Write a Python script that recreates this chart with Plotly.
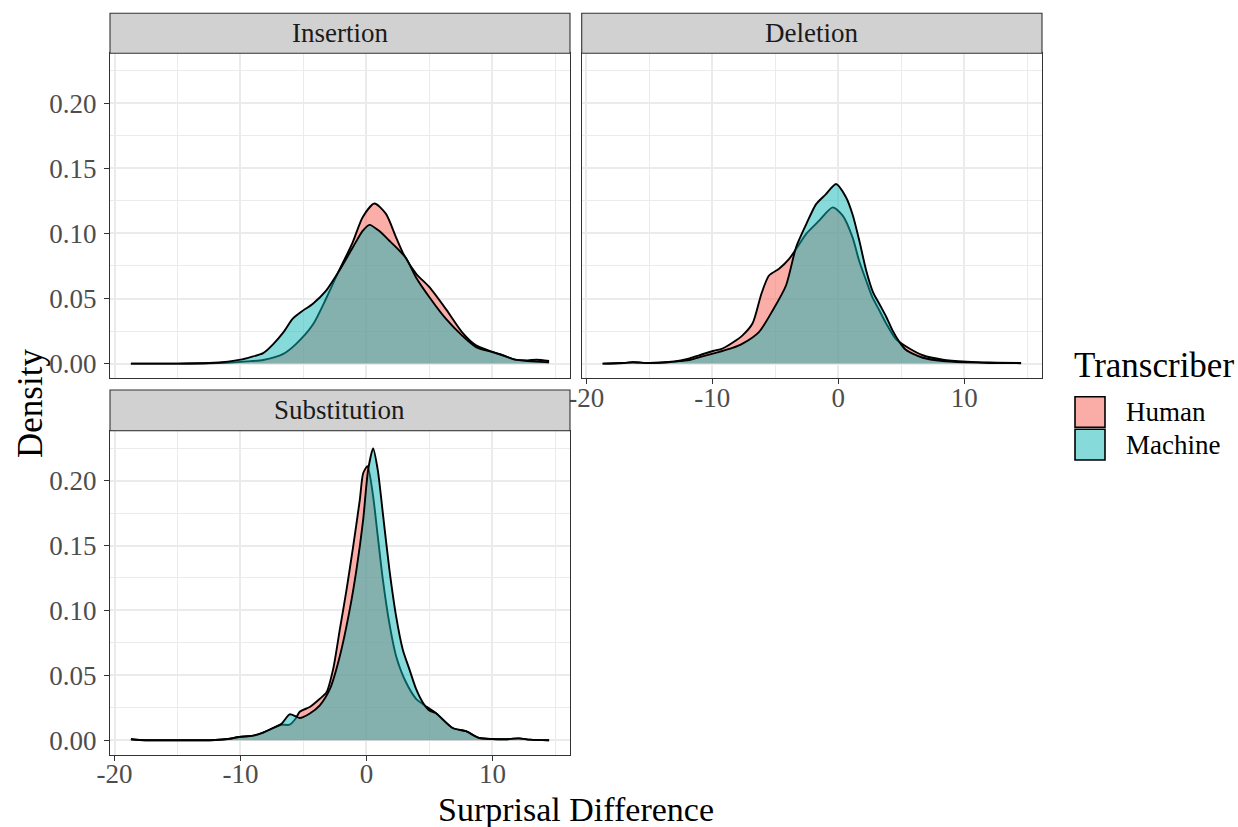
import plotly.graph_objects as go

# ---- density estimates of surprisal difference, by error type and transcriber ----
ins_human_x = [-18.7, -15, -12.5, -11, -9.5, -8.2, -6.6, -5.6, -4.25, -3.2, -2.27, -1.1, -0.3,
               0.63, 1.55, 2.35, 3.0, 3.95, 5.0, 6.3, 7.6, 8.7, 10.0, 10.8, 11.8, 12.8, 13.5, 14.5]
ins_human_y = [0.0, 0.0, 0.0003, 0.0008, 0.0017, 0.0028, 0.0075, 0.015, 0.030, 0.050, 0.0695, 0.093, 0.1125,
               0.123, 0.115, 0.097, 0.083, 0.069, 0.0587, 0.042, 0.024, 0.014, 0.009, 0.0065, 0.003, 0.0025, 0.003, 0.002]

ins_machine_x = [-18.7, -15, -12.5, -11, -10, -9.2, -8.2, -7.4, -6.6, -5.85, -5.15, -4.25, -3.2, -2.15,
                 -1.1, -0.3, 0.24, 1.0, 1.8, 2.6, 3.15, 3.95, 5.0, 6.3, 7.6, 8.7, 10.0, 10.8, 11.8, 12.8, 13.5, 14.5]
ins_machine_y = [0.0, 0.0, 0.0004, 0.0015, 0.003, 0.005, 0.008, 0.015, 0.024, 0.0345, 0.040, 0.046, 0.056, 0.0715,
                 0.089, 0.102, 0.1066, 0.102, 0.0946, 0.087, 0.081, 0.066, 0.051, 0.0345, 0.0215, 0.0127, 0.0089, 0.0064, 0.003, 0.002, 0.0015, 0.001]

del_human_x = [-18.7, -17, -16.3, -15, -13.5, -12.5, -11.8, -11, -9.95, -9.2, -8.4, -7.6, -6.8, -6.1, -5.5,
               -4.7, -3.9, -3.35, -2.55, -1.5, -0.45, 0.35, 1.13, 1.65, 2.2, 2.7, 3.25, 3.8, 4.55, 5.35,
               6.7, 8.3, 10.2, 12.0, 14.5]
del_human_y = [0.0, 0.0005, 0.001, 0.0005, 0.0012, 0.0025, 0.004, 0.0065, 0.0097, 0.0115, 0.016, 0.0217, 0.031, 0.0537, 0.0677,
               0.0729, 0.0805, 0.088, 0.0997, 0.110, 0.120, 0.1137, 0.097, 0.079, 0.064, 0.051, 0.041, 0.0307, 0.019, 0.0133,
               0.0064, 0.003, 0.0015, 0.0008, 0.0005]

del_machine_x = [-18.7, -17, -16.3, -15, -13.5, -12.5, -11.8, -11, -9.95, -9.2, -8.4, -7.6, -6.3, -5.2, -4.15,
                 -3.35, -2.55, -1.75, -1.0, -0.18, 0.6, 1.15, 1.7, 2.2, 2.75, 3.25, 3.8, 4.3, 4.85, 5.35,
                 6.7, 8.3, 10.2, 12.0, 14.5]
del_machine_y = [0.0, 0.0005, 0.001, 0.0005, 0.001, 0.002, 0.0028, 0.005, 0.0077, 0.0097, 0.012, 0.0153, 0.0242, 0.041, 0.060,
                 0.0894, 0.107, 0.1227, 0.130, 0.138, 0.128, 0.114, 0.093, 0.072, 0.055, 0.046, 0.036, 0.0255, 0.0166, 0.0107,
                 0.0045, 0.002, 0.001, 0.0005, 0.0003]

sub_human_x = [-18.7, -18, -15, -12, -11, -10.1, -9.0, -8.2, -7.4, -6.74, -6.1, -5.6, -5.3, -4.5, -3.7, -3.17,
               -2.64, -2.11, -1.58, -1.06, -0.53, -0.26, 0.08, 0.5, 0.9, 1.3, 1.82, 2.35, 3.14, 3.94, 4.46,
               5.5, 6.84, 7.9, 8.95, 10.0, 11.0, 12.1, 13.0, 14.5]
sub_human_y = [0.0008, 0.0003, 0.0, 0.0003, 0.001, 0.0026, 0.0036, 0.006, 0.0095, 0.012, 0.012, 0.017, 0.022, 0.0257, 0.032, 0.037,
               0.055, 0.0856, 0.116, 0.149, 0.185, 0.2056, 0.211, 0.190, 0.157, 0.124, 0.090, 0.065, 0.0447, 0.032, 0.028,
               0.021, 0.0095, 0.007, 0.0018, 0.001, 0.0008, 0.0015, 0.0005, 0.0]

sub_machine_x = [-18.7, -18, -15, -12, -11, -10.1, -9.0, -8.2, -7.4, -6.74, -6.1, -5.6, -5.3, -4.5, -3.7, -2.9,
                 -2.11, -1.32, -0.79, -0.26, 0.13, 0.53, 0.9, 1.3, 1.82, 2.35, 2.88, 3.4, 3.94, 4.46, 4.99,
                 5.5, 6.84, 7.9, 8.95, 10.0, 11.0, 12.1, 13.0, 14.5]
sub_machine_y = [0.0008, 0.0003, 0.0, 0.0003, 0.001, 0.0026, 0.0036, 0.006, 0.0095, 0.0128, 0.020, 0.0184, 0.0172, 0.0207, 0.027, 0.0396,
                 0.065, 0.101, 0.1316, 0.170, 0.208, 0.2247, 0.208, 0.175, 0.1316, 0.0958, 0.070, 0.055, 0.0396, 0.0294, 0.023,
                 0.021, 0.0095, 0.007, 0.0018, 0.001, 0.0008, 0.0015, 0.0005, 0.0]

panel_titles = ["Insertion", "Deletion", "Substitution"]
series_names = ["Human", "Machine"]
x_ticks = [-20, -10, 0, 10]
x_minor = [-15, -5, 5, 15]
y_ticks = [0.0, 0.05, 0.10, 0.15, 0.20]
y_minor = [0.025, 0.075, 0.125, 0.175, 0.225]

# ---- styling ----
FONT = "Liberation Serif"
HUMAN_FILL = "rgba(248,118,109,0.6)"
MACHINE_FILL = "rgba(13,181,181,0.5)"
HUMAN_KEY = "rgb(250,172,167)"
MACHINE_KEY = "rgb(134,218,218)"
GRID = "#EBEBEB"
FRAME = "#333333"
TICKTXT = "#4D4D4D"
STRIP = "#D1D1D1"

W, H = 1238, 827


def px_x(v):
    return v / W


def px_y(v):
    return 1 - v / H


fig = go.Figure()

panels = [
    ("x", "y", ins_human_x, ins_human_y, ins_machine_x, ins_machine_y),
    ("x2", "y2", del_human_x, del_human_y, del_machine_x, del_machine_y),
    ("x3", "y3", sub_human_x, sub_human_y, sub_machine_x, sub_machine_y),
]
for xa, ya, hx, hy, mx, my in panels:
    fig.add_trace(go.Scatter(x=hx, y=hy, xaxis=xa, yaxis=ya, mode="lines", fill="tozeroy",
                             fillcolor=HUMAN_FILL, line=dict(color="black", width=1.9, shape="spline", smoothing=0.7),
                             name=series_names[0], showlegend=False, hoverinfo="skip"))
    fig.add_trace(go.Scatter(x=mx, y=my, xaxis=xa, yaxis=ya, mode="lines", fill="tozeroy",
                             fillcolor=MACHINE_FILL, line=dict(color="black", width=1.9, shape="spline", smoothing=0.7),
                             name=series_names[1], showlegend=False, hoverinfo="skip"))

# panel rectangles in pixels: (left, right) and (top, bottom)
top_y = (53.3, 378.3)
bot_y = (430.7, 755.0)
col1 = (110.0, 570.0)
col2 = (581.7, 1042.0)

x_range = [-20.36, 16.16]
y_range = [-0.0113, 0.2384]


def xaxis_cfg(domain, labels):
    return dict(domain=[px_x(domain[0]), px_x(domain[1])], range=x_range, automargin=False,
                tickmode="array", tickvals=x_ticks, ticktext=[str(t) for t in x_ticks],
                showticklabels=labels, ticks="outside" if labels else "", ticklen=5, tickwidth=1.1,
                ticklabelstandoff=-10,
                tickcolor=FRAME, tickfont=dict(family=FONT, size=27, color=TICKTXT),
                showgrid=True, gridcolor=GRID, gridwidth=1.6, zeroline=False,
                minor=dict(tickmode="array", tickvals=x_minor, showgrid=True, gridcolor=GRID, gridwidth=0.8, ticks=""),
                showline=True, mirror=True, linecolor=FRAME, linewidth=1.1, fixedrange=True)


def yaxis_cfg(domain, labels):
    return dict(domain=[px_y(domain[1]), px_y(domain[0])], range=y_range, automargin=False,
                tickmode="array", tickvals=y_ticks, ticktext=["%.2f" % t for t in y_ticks],
                showticklabels=labels, ticks="outside" if labels else "", ticklen=5, tickwidth=1.1,
                ticklabelstandoff=2,
                tickcolor=FRAME, tickfont=dict(family=FONT, size=27, color=TICKTXT),
                showgrid=True, gridcolor=GRID, gridwidth=1.6, zeroline=False,
                minor=dict(tickmode="array", tickvals=y_minor, showgrid=True, gridcolor=GRID, gridwidth=0.8, ticks=""),
                showline=True, mirror=True, linecolor=FRAME, linewidth=1.1, fixedrange=True)


fig.update_layout(
    xaxis=xaxis_cfg(col1, False), yaxis=yaxis_cfg(top_y, True),
    xaxis2=xaxis_cfg(col2, True), yaxis2=yaxis_cfg(top_y, False),
    xaxis3=xaxis_cfg(col1, True), yaxis3=yaxis_cfg(bot_y, True),
)
fig.layout.xaxis2.anchor = "y2"
fig.layout.yaxis2.anchor = "x2"
fig.layout.xaxis3.anchor = "y3"
fig.layout.yaxis3.anchor = "x3"

shapes = []
annotations = []

# facet strips
strips = [(col1, (13.3, 53.3), panel_titles[0]),
          (col2, (13.3, 53.3), panel_titles[1]),
          (col1, (390.0, 430.7), panel_titles[2])]
for (l, r), (t, b), label in strips:
    shapes.append(dict(type="rect", xref="paper", yref="paper", x0=px_x(l), x1=px_x(r),
                       y0=px_y(b), y1=px_y(t), fillcolor=STRIP, line=dict(color=FRAME, width=1.1), layer="above"))
    annotations.append(dict(xref="paper", yref="paper", x=px_x((l + r) / 2), y=px_y((t + b) / 2),
                            text=label, showarrow=False, xanchor="center", yanchor="middle",
                            font=dict(family=FONT, size=27, color="#1A1A1A")))

# axis titles
annotations.append(dict(xref="paper", yref="paper", x=px_x(30), y=px_y(404), text="Density",
                        textangle=-90, showarrow=False, xanchor="center", yanchor="middle",
                        font=dict(family=FONT, size=35, color="black")))
annotations.append(dict(xref="paper", yref="paper", x=px_x(576), y=px_y(809), text="Surprisal Difference",
                        showarrow=False, xanchor="center", yanchor="middle",
                        font=dict(family=FONT, size=34, color="black")))

# legend
annotations.append(dict(xref="paper", yref="paper", x=px_x(1072), y=px_y(365), text="Transcriber",
                        showarrow=False, xanchor="left", yanchor="middle",
                        font=dict(family=FONT, size=35, color="black")))
legend_rows = [(series_names[0], HUMAN_KEY, 396.7, 427.3), (series_names[1], MACHINE_KEY, 429.3, 460.0)]
for name, colr, t, b in legend_rows:
    shapes.append(dict(type="rect", xref="paper", yref="paper", x0=px_x(1075), x1=px_x(1105),
                       y0=px_y(b), y1=px_y(t), fillcolor=colr, line=dict(color="black", width=1.6)))
    annotations.append(dict(xref="paper", yref="paper", x=px_x(1124), y=px_y((t + b) / 2), text=name,
                            showarrow=False, xanchor="left", yanchor="middle",
                            font=dict(family=FONT, size=27, color="black")))

fig.update_layout(shapes=shapes, annotations=annotations, width=W, height=H,
                  margin=dict(l=0, r=0, t=0, b=0, autoexpand=False), paper_bgcolor="white", plot_bgcolor="white",
                  showlegend=False)

fig.write_html("out.html")
